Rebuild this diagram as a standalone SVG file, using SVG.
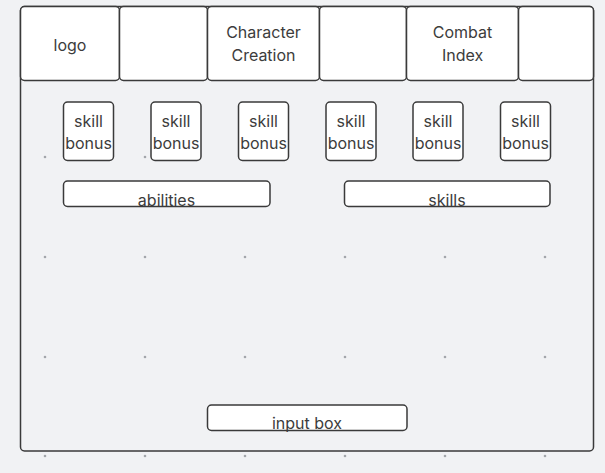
<svg xmlns="http://www.w3.org/2000/svg" width="605" height="473" viewBox="0 0 605 473">
<style>
.bx{fill:#fff;stroke:#3a3a3a;stroke-width:1.5}
.t{font-family:Inter,"Liberation Sans",sans-serif;font-size:16px;fill:#3c3c3c;text-anchor:middle}
.d{fill:#a3a6ab}
</style>
<rect width="605" height="473" fill="#f1f2f4"/>
<g id="frame"><rect x="20.5" y="6.5" width="573" height="444.5" rx="4" fill="none" stroke="#3a3a3a" stroke-width="1.5"/></g>
<g id="grid">
<g class="d">
<circle cx="45" cy="157" r="1.3"/><circle cx="145" cy="157" r="1.3"/>
<circle cx="45" cy="257" r="1.3"/><circle cx="145" cy="257" r="1.3"/><circle cx="245" cy="257" r="1.3"/><circle cx="345" cy="257" r="1.3"/><circle cx="445" cy="257" r="1.3"/><circle cx="545" cy="257" r="1.3"/>
<circle cx="45" cy="357" r="1.3"/><circle cx="145" cy="357" r="1.3"/><circle cx="245" cy="357" r="1.3"/><circle cx="345" cy="357" r="1.3"/><circle cx="445" cy="357" r="1.3"/><circle cx="545" cy="357" r="1.3"/>
<circle cx="45" cy="456" r="1.3"/><circle cx="145" cy="456" r="1.3"/><circle cx="245" cy="456" r="1.3"/><circle cx="345" cy="456" r="1.3"/><circle cx="445" cy="456" r="1.3"/><circle cx="545" cy="456" r="1.3"/>
</g>
</g>
<g id="header">
<g id="logo"><rect class="bx" x="20.5" y="6.5" width="99" height="74" rx="4"/><text class="t" x="70" y="50.5">logo</text></g>
<g id="blank1"><rect class="bx" x="119.5" y="6.5" width="88" height="74" rx="4"/></g>
<g id="character-creation"><rect class="bx" x="207.5" y="6.5" width="112" height="74" rx="4"/><text class="t" x="263.5" y="37.5">Character</text><text class="t" x="263.5" y="60.5">Creation</text></g>
<g id="blank2"><rect class="bx" x="319.5" y="6.5" width="87" height="74" rx="4"/></g>
<g id="combat-index"><rect class="bx" x="406.5" y="6.5" width="112" height="74" rx="4"/><text class="t" x="462.5" y="37.5">Combat</text><text class="t" x="462.5" y="60.5">Index</text></g>
<g id="blank3"><rect class="bx" x="518.5" y="6.5" width="75" height="74" rx="4"/></g>
</g>
<g id="sb1"><rect class="bx" x="63.5" y="102" width="50" height="58.5" rx="4"/><text class="t" x="88.5" y="127">skill</text><text class="t" x="88.5" y="148.5">bonus</text></g>
<g id="sb2"><rect class="bx" x="151" y="102" width="50" height="58.5" rx="4"/><text class="t" x="176" y="127">skill</text><text class="t" x="176" y="148.5">bonus</text></g>
<g id="sb3"><rect class="bx" x="238.5" y="102" width="50" height="58.5" rx="4"/><text class="t" x="263.5" y="127">skill</text><text class="t" x="263.5" y="148.5">bonus</text></g>
<g id="sb4"><rect class="bx" x="326" y="102" width="50" height="58.5" rx="4"/><text class="t" x="351" y="127">skill</text><text class="t" x="351" y="148.5">bonus</text></g>
<g id="sb5"><rect class="bx" x="413" y="102" width="50" height="58.5" rx="4"/><text class="t" x="438" y="127">skill</text><text class="t" x="438" y="148.5">bonus</text></g>
<g id="sb6"><rect class="bx" x="500.5" y="102" width="50" height="58.5" rx="4"/><text class="t" x="525.5" y="127">skill</text><text class="t" x="525.5" y="148.5">bonus</text></g>
<g id="abilities"><rect class="bx" x="63.5" y="181" width="206.5" height="25.5" rx="4"/><text class="t" x="166.5" y="206">abilities</text></g>
<g id="skills"><rect class="bx" x="344.5" y="181" width="205.5" height="25.5" rx="4"/><text class="t" x="447" y="206">skills</text></g>
<g id="input-box"><rect class="bx" x="207.5" y="405" width="199.5" height="25.5" rx="4"/><text class="t" x="307" y="428.5">input box</text></g>
<g id="connectors"/>
</svg>
